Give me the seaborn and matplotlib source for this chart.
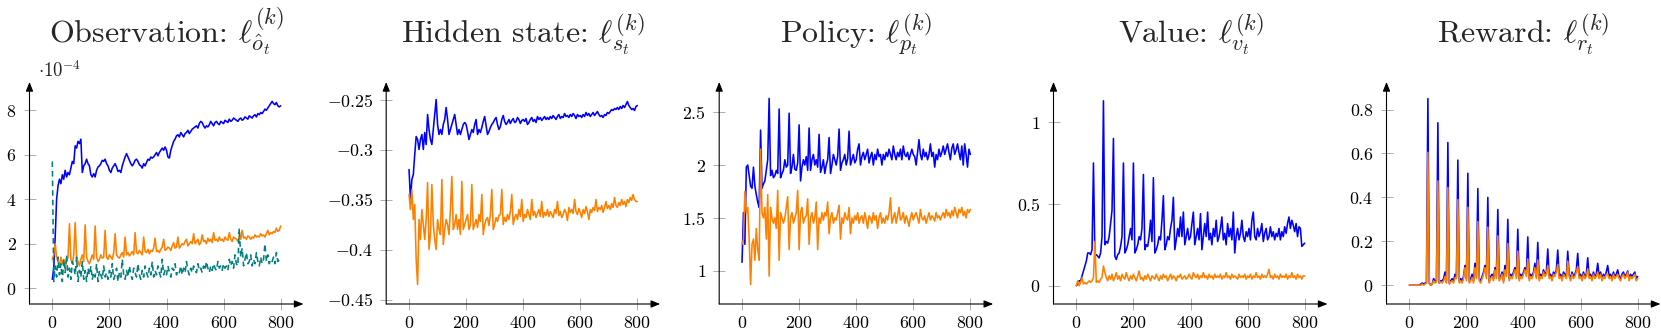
import matplotlib
matplotlib.use('Agg')
import matplotlib.pyplot as plt
import seaborn as sns

# training step axis (every 5 steps)
steps = list(range(0, 801, 5))

# Observation loss, values in units of 1e-4
obs_blue = [0.4, 0.9, 2.3, 4.0, 4.6, 4.9, 4.7, 5.1, 4.9, 5.3, 5.0, 5.2, 5.1, 5.4, 5.7, 5.6, 6.4, 6.3, 6.6, 6.5,
            6.7, 5.2, 5.5, 5.6, 5.8, 5.6, 5.5, 5.1, 5.0, 5.15, 5.0, 5.3, 5.45, 5.5, 5.6, 5.75, 5.7, 5.8, 5.6, 5.5,
            5.3, 5.2, 5.4, 5.5, 5.6, 5.45, 5.25, 5.3, 5.2, 5.5, 5.7, 5.9, 6.05, 5.9, 5.75, 5.6, 5.5, 5.6, 5.75, 5.8,
            5.7, 5.55, 5.5, 5.4, 5.6, 5.5, 5.65, 5.8, 5.75, 5.9, 5.85, 5.9, 6.0, 6.1, 5.95, 6.1, 6.2, 6.3, 6.2, 6.35,
            6.2, 5.9, 5.85, 6.2, 6.4, 6.6, 6.7, 6.85, 6.9, 6.8, 7.0, 6.9, 6.8, 6.95, 7.0, 7.1, 6.95, 7.05, 7.15, 7.2,
            7.25, 7.3, 7.2, 7.4, 7.5, 7.45, 7.3, 7.2, 7.3, 7.25, 7.35, 7.5, 7.4, 7.3, 7.45, 7.5, 7.4, 7.35, 7.5, 7.45,
            7.4, 7.55, 7.5, 7.45, 7.6, 7.5, 7.55, 7.65, 7.6, 7.55, 7.5, 7.6, 7.65, 7.55, 7.6, 7.7, 7.65, 7.6, 7.75, 7.7,
            7.65, 7.75, 7.8, 7.7, 7.85, 7.8, 7.9, 7.85, 7.95, 8.05, 8.0, 8.1, 8.2, 8.3, 8.4, 8.3, 8.25, 8.35, 8.2, 8.15,
            8.2]
obs_orange = [1.3, 1.5, 2.0, 1.4, 1.2, 1.0, 1.4, 1.1, 1.3, 0.9, 1.2, 1.4, 2.9, 1.3, 1.1, 1.5, 2.95, 1.4, 1.2, 1.0,
              1.3, 1.5, 1.2, 2.85, 1.4, 1.2, 1.1, 1.3, 1.5, 1.3, 2.8, 1.4, 1.2, 1.3, 1.5, 1.35, 1.4, 2.6, 1.4, 1.3,
              1.5, 1.4, 1.3, 1.6, 2.45, 1.5, 1.4, 1.35, 1.5, 1.6, 1.4, 2.3, 1.5, 1.6, 1.45, 1.55, 1.65, 1.5, 2.5, 1.6,
              1.55, 1.7, 1.6, 1.5, 2.3, 1.65, 1.6, 1.75, 1.55, 1.7, 1.65, 1.8, 2.25, 1.65, 1.7, 1.6, 1.75, 1.85, 2.2, 1.7,
              1.75, 1.85, 1.8, 1.7, 1.9, 2.05, 1.8, 1.85, 2.3, 1.8, 1.9, 2.0, 1.95, 2.1, 2.2, 1.9, 2.0, 2.1, 2.0, 2.45,
              2.0, 2.1, 2.2, 1.95, 2.05, 2.4, 2.1, 2.15, 2.0, 2.25, 2.1, 2.2, 2.05, 2.5, 2.15, 2.2, 2.1, 2.3, 2.15, 2.2,
              2.1, 2.3, 2.2, 2.15, 2.5, 2.2, 2.1, 2.3, 2.25, 2.2, 2.1, 2.35, 2.2, 2.6, 2.25, 2.3, 2.2, 2.35, 2.3, 2.2,
              2.3, 2.25, 2.4, 2.3, 2.35, 2.3, 2.45, 2.35, 2.4, 2.3, 2.45, 2.6, 2.4, 2.5, 2.45, 2.55, 2.5, 2.7, 2.55, 2.6,
              2.8]
obs_teal = [5.7, 0.3, 1.0, 0.5, 1.4, 0.6, 1.1, 0.3, 1.3, 0.7, 1.5, 0.5, 0.9, 0.4, 1.2, 1.0, 0.6, 1.4, 0.3, 0.8,
            0.5, 1.2, 0.4, 0.8, 0.3, 0.9, 0.6, 1.0, 0.4, 0.7, 0.5, 1.1, 0.3, 0.8, 0.6, 0.4, 1.0, 0.5, 0.7, 0.4,
            0.8, 0.5, 1.1, 0.4, 0.6, 0.9, 0.3, 0.7, 0.5, 1.3, 0.6, 0.4, 0.8, 0.5, 1.0, 0.6, 0.4, 0.9, 0.7, 0.5,
            1.1, 0.6, 0.4, 0.8, 0.5, 1.0, 0.7, 0.5, 0.9, 0.6, 1.2, 0.5, 0.8, 0.6, 1.0, 0.7, 0.5, 1.3, 0.6, 0.8,
            0.6, 1.0, 0.7, 0.5, 0.9, 0.8, 1.1, 0.6, 0.8, 0.7, 1.0, 0.6, 0.9, 0.7, 1.2, 0.8, 0.6, 0.9, 0.7, 1.0,
            0.8, 0.7, 1.1, 0.8, 0.9, 0.7, 1.0, 0.8, 1.2, 0.9, 0.7, 1.0, 0.8, 1.1, 0.9, 0.8, 1.2, 0.9, 1.0, 0.8,
            1.1, 0.9, 1.0, 0.8, 1.3, 1.0, 1.2, 0.9, 1.5, 1.1, 1.0, 2.7, 1.4, 1.8, 1.0, 1.3, 1.6, 1.1, 1.2, 1.5,
            1.0, 1.3, 1.1, 1.6, 1.2, 1.0, 1.4, 1.1, 1.3, 2.0, 1.2, 1.5, 1.1, 1.3, 1.2, 1.4, 1.1, 1.6, 1.2, 1.3,
            1.3]

# Hidden state loss
hid_blue = [-0.32, -0.35, -0.33, -0.325, -0.305, -0.287, -0.29, -0.30, -0.29, -0.285,
            -0.30, -0.283, -0.295, -0.265, -0.28, -0.29, -0.295, -0.28, -0.265, -0.25,
            -0.275, -0.285, -0.28, -0.285, -0.275, -0.27, -0.258, -0.27, -0.285, -0.28,
            -0.275, -0.27, -0.265, -0.275, -0.285, -0.28, -0.285, -0.28, -0.275, -0.273,
            -0.275, -0.282, -0.29, -0.285, -0.28, -0.283, -0.275, -0.27, -0.285, -0.28,
            -0.283, -0.278, -0.272, -0.267, -0.276, -0.285, -0.282, -0.278, -0.275, -0.273,
            -0.27, -0.268, -0.275, -0.28, -0.277, -0.27, -0.266, -0.272, -0.275, -0.273,
            -0.27, -0.274, -0.271, -0.269, -0.273, -0.272, -0.268, -0.27, -0.274, -0.271,
            -0.27, -0.272, -0.269, -0.275, -0.273, -0.27, -0.268, -0.272, -0.27, -0.273,
            -0.267, -0.27, -0.268, -0.271, -0.269, -0.267, -0.27, -0.268, -0.27, -0.267,
            -0.269, -0.266, -0.268, -0.27, -0.267, -0.265, -0.269, -0.267, -0.268, -0.264,
            -0.267, -0.266, -0.268, -0.265, -0.267, -0.264, -0.266, -0.269, -0.265, -0.267,
            -0.266, -0.268, -0.265, -0.267, -0.263, -0.266, -0.264, -0.267, -0.265, -0.263,
            -0.266, -0.264, -0.262, -0.265, -0.267, -0.266, -0.268, -0.265, -0.266, -0.263,
            -0.264, -0.262, -0.26, -0.261, -0.259, -0.26, -0.258, -0.26, -0.257, -0.259,
            -0.256, -0.258, -0.255, -0.252, -0.256, -0.258, -0.26, -0.259, -0.261, -0.257,
            -0.256]
hid_orange = [-0.345, -0.36, -0.34, -0.37, -0.355, -0.41, -0.435, -0.37, -0.39, -0.36,
              -0.375, -0.39, -0.37, -0.333, -0.40, -0.385, -0.335, -0.375, -0.39, -0.40,
              -0.37, -0.38, -0.385, -0.33, -0.395, -0.38, -0.37, -0.375, -0.385, -0.36,
              -0.327, -0.38, -0.375, -0.365, -0.38, -0.37, -0.385, -0.332, -0.38, -0.375,
              -0.37, -0.365, -0.38, -0.375, -0.335, -0.38, -0.375, -0.37, -0.378, -0.365,
              -0.372, -0.345, -0.385, -0.375, -0.37, -0.368, -0.376, -0.365, -0.34, -0.38,
              -0.375, -0.368, -0.372, -0.366, -0.365, -0.34, -0.375, -0.368, -0.372, -0.365,
              -0.37, -0.362, -0.345, -0.375, -0.368, -0.365, -0.37, -0.36, -0.367, -0.35,
              -0.372, -0.365, -0.368, -0.36, -0.365, -0.37, -0.35, -0.366, -0.362, -0.368,
              -0.364, -0.36, -0.367, -0.352, -0.368, -0.363, -0.366, -0.36, -0.367, -0.362,
              -0.365, -0.368, -0.36, -0.364, -0.352, -0.366, -0.362, -0.368, -0.365, -0.36,
              -0.363, -0.371, -0.358, -0.363, -0.36, -0.364, -0.35, -0.362, -0.365, -0.359,
              -0.363, -0.368, -0.36, -0.364, -0.357, -0.362, -0.37, -0.36, -0.363, -0.358,
              -0.361, -0.35, -0.362, -0.358, -0.36, -0.356, -0.363, -0.358, -0.352, -0.359,
              -0.356, -0.36, -0.354, -0.358, -0.348, -0.356, -0.358, -0.353, -0.356, -0.35,
              -0.355, -0.352, -0.357, -0.35, -0.353, -0.348, -0.351, -0.345, -0.35, -0.352,
              -0.352]

# Policy loss
pol_blue = [1.08, 1.55, 1.25, 1.98, 2.0, 1.9, 1.8, 1.78, 1.98, 1.8, 1.72, 1.65, 1.6, 2.33, 1.78, 1.82, 1.85, 1.95, 2.05, 2.63,
            1.9, 1.95, 1.88, 1.9, 1.95, 1.92, 2.53, 1.88, 1.92, 1.95, 2.05, 1.98, 2.0, 2.49, 1.92, 1.98, 2.1, 1.96, 1.95, 2.02,
            2.38, 1.85, 1.98, 2.05, 2.0, 2.08, 1.95, 2.35, 1.95, 2.05, 2.1, 2.0, 2.05, 1.98, 2.29, 1.93, 1.98, 2.05, 1.92, 2.0,
            2.05, 2.26, 1.92, 2.0, 2.1, 2.05, 2.0, 2.08, 2.34, 1.95, 2.02, 2.05, 2.1, 2.0, 2.06, 2.32, 2.0, 2.05, 2.1, 2.02,
            2.05, 2.15, 2.2, 2.0, 2.08, 2.12, 2.05, 2.1, 2.15, 2.02, 2.08, 2.12, 2.0, 2.1, 2.05, 2.15, 2.08, 2.1, 2.0, 2.1,
            2.05, 2.12, 2.08, 2.15, 2.1, 2.05, 2.18, 2.1, 2.05, 2.12, 2.08, 2.15, 2.05, 2.18, 2.1, 2.08, 2.12, 2.05, 2.1, 2.15,
            2.1, 2.08, 2.0, 2.12, 2.24, 2.1, 2.05, 2.15, 2.08, 2.12, 2.05, 2.1, 2.2, 2.08, 2.12, 1.98, 2.1, 2.05, 2.15, 2.08,
            2.12, 2.18, 2.1, 2.15, 2.2, 2.12, 2.05, 2.16, 2.2, 2.1, 2.14, 2.2, 2.12, 2.05, 2.18, 2.0, 2.2, 2.1, 1.98, 2.15,
            2.1]
pol_orange = [1.25, 1.3, 1.75, 1.55, 1.6, 1.3, 0.87, 1.25, 1.3, 1.1, 1.4, 1.2, 1.1, 2.15, 1.55, 1.5, 1.6, 1.3, 1.72, 0.95,
              1.6, 1.5, 1.45, 1.5, 1.4, 1.76, 1.1, 1.55, 1.5, 1.45, 1.5, 1.6, 1.7, 1.2, 1.5, 1.55, 1.45, 1.5, 1.55, 1.76,
              1.2, 1.55, 1.6, 1.45, 1.5, 1.52, 1.68, 1.25, 1.5, 1.55, 1.45, 1.5, 1.65, 1.2, 1.5, 1.45, 1.55, 1.48, 1.55, 1.52,
              1.65, 1.35, 1.5, 1.55, 1.45, 1.5, 1.48, 1.55, 1.62, 1.3, 1.5, 1.45, 1.55, 1.5, 1.48, 1.6, 1.35, 1.5, 1.45, 1.52,
              1.48, 1.55, 1.45, 1.5, 1.52, 1.45, 1.55, 1.48, 1.4, 1.52, 1.5, 1.45, 1.55, 1.48, 1.52, 1.4, 1.5, 1.55, 1.45, 1.5,
              1.45, 1.52, 1.48, 1.55, 1.69, 1.45, 1.5, 1.55, 1.45, 1.52, 1.6, 1.48, 1.5, 1.55, 1.45, 1.52, 1.48, 1.42, 1.5, 1.55,
              1.48, 1.52, 1.55, 1.5, 1.45, 1.58, 1.5, 1.48, 1.52, 1.45, 1.5, 1.55, 1.48, 1.52, 1.5, 1.47, 1.55, 1.5, 1.52, 1.48,
              1.52, 1.55, 1.5, 1.58, 1.52, 1.55, 1.5, 1.57, 1.52, 1.6, 1.55, 1.5, 1.58, 1.55, 1.6, 1.52, 1.56, 1.5, 1.58, 1.55,
              1.58]

# Value loss
val_blue = [0.0, 0.01, 0.03, 0.03, 0.06, 0.09, 0.12, 0.15, 0.2, 0.2, 0.19, 0.22, 0.75, 0.18, 0.19, 0.18, 0.17, 0.2, 0.3, 1.13,
            0.25, 0.27, 0.26, 0.3, 0.38, 0.46, 0.9, 0.18, 0.16, 0.19, 0.2, 0.24, 0.3, 0.75, 0.2, 0.22, 0.25, 0.3, 0.35, 0.28,
            0.75, 0.2, 0.22, 0.25, 0.3, 0.28, 0.35, 0.68, 0.22, 0.25, 0.24, 0.3, 0.4, 0.27, 0.66, 0.2, 0.22, 0.25, 0.3, 0.28,
            0.4, 0.55, 0.22, 0.25, 0.3, 0.28, 0.35, 0.4, 0.54, 0.22, 0.28, 0.35, 0.3, 0.42, 0.3, 0.45, 0.25, 0.3, 0.35, 0.28,
            0.3, 0.38, 0.45, 0.25, 0.3, 0.35, 0.28, 0.44, 0.22, 0.3, 0.38, 0.3, 0.45, 0.28, 0.32, 0.25, 0.35, 0.3, 0.4, 0.27,
            0.3, 0.35, 0.42, 0.28, 0.32, 0.25, 0.38, 0.3, 0.35, 0.28, 0.45, 0.2, 0.3, 0.35, 0.28, 0.32, 0.4, 0.3, 0.27, 0.33,
            0.3, 0.35, 0.28, 0.4, 0.45, 0.3, 0.28, 0.35, 0.3, 0.33, 0.38, 0.27, 0.32, 0.35, 0.28, 0.3, 0.36, 0.3, 0.33, 0.28,
            0.32, 0.3, 0.35, 0.28, 0.33, 0.3, 0.36, 0.32, 0.38, 0.42, 0.35, 0.4, 0.37, 0.33, 0.38, 0.3, 0.36, 0.35, 0.24, 0.25,
            0.26]
val_orange = [0.0, 0.03, 0.0, 0.02, 0.05, 0.01, 0.02, 0.01, 0.02, 0.03, 0.02, 0.03, 0.05, 0.27, 0.02, 0.03, 0.02, 0.04, 0.05, 0.12,
              0.08, 0.05, 0.03, 0.06, 0.04, 0.07, 0.03, 0.05, 0.08, 0.04, 0.06, 0.03, 0.07, 0.05, 0.04, 0.08, 0.05, 0.03, 0.06, 0.04,
              0.07, 0.05, 0.03, 0.06, 0.09, 0.04, 0.05, 0.03, 0.06, 0.04, 0.07, 0.05, 0.03, 0.06, 0.05, 0.04, 0.07, 0.05, 0.03, 0.06,
              0.04, 0.07, 0.05, 0.06, 0.03, 0.05, 0.07, 0.04, 0.06, 0.05, 0.03, 0.06, 0.05, 0.07, 0.04, 0.05, 0.06, 0.04, 0.05, 0.07,
              0.05, 0.04, 0.08, 0.06, 0.05, 0.07, 0.04, 0.06, 0.05, 0.08, 0.05, 0.06, 0.04, 0.07, 0.05, 0.06, 0.04, 0.07, 0.05, 0.06,
              0.05, 0.07, 0.04, 0.06, 0.05, 0.08, 0.05, 0.06, 0.04, 0.07, 0.05, 0.06, 0.05, 0.04, 0.07, 0.05, 0.06, 0.05, 0.07, 0.04,
              0.06, 0.05, 0.07, 0.04, 0.06, 0.05, 0.08, 0.05, 0.06, 0.04, 0.07, 0.05, 0.06, 0.05, 0.07, 0.1, 0.05, 0.06, 0.04, 0.07,
              0.05, 0.06, 0.04, 0.07, 0.05, 0.06, 0.05, 0.07, 0.04, 0.06, 0.05, 0.08, 0.05, 0.06, 0.04, 0.07, 0.05, 0.06, 0.04, 0.06,
              0.06]

# Reward loss
rew_blue = [0.0, 0.0, 0.0, 0.0, 0.0, 0.0, 0.0, 0.0, 0.005, 0.01, 0.005, 0.01, 0.01, 0.85, 0.01, 0.0, 0.005, 0.03, 0.02, 0.02,
            0.74, 0.01, 0.02, 0.02, 0.03, 0.06, 0.02, 0.65, 0.01, 0.02, 0.03, 0.02, 0.05, 0.04, 0.57, 0.02, 0.03, 0.02, 0.04, 0.09,
            0.03, 0.51, 0.02, 0.03, 0.05, 0.02, 0.1, 0.04, 0.44, 0.03, 0.02, 0.04, 0.06, 0.09, 0.05, 0.40, 0.02, 0.04, 0.05, 0.03,
            0.08, 0.05, 0.345, 0.03, 0.04, 0.06, 0.02, 0.09, 0.05, 0.30, 0.03, 0.05, 0.04, 0.06, 0.08, 0.04, 0.255, 0.03, 0.05, 0.04,
            0.06, 0.08, 0.05, 0.22, 0.03, 0.05, 0.04, 0.06, 0.1, 0.04, 0.195, 0.03, 0.05, 0.04, 0.07, 0.05, 0.06, 0.165, 0.04, 0.05,
            0.03, 0.06, 0.05, 0.07, 0.16, 0.04, 0.05, 0.03, 0.06, 0.05, 0.04, 0.155, 0.05, 0.03, 0.06, 0.04, 0.05, 0.07, 0.145, 0.04,
            0.05, 0.03, 0.06, 0.04, 0.05, 0.125, 0.04, 0.05, 0.03, 0.06, 0.04, 0.05, 0.1, 0.04, 0.06, 0.03, 0.05, 0.04, 0.06, 0.09,
            0.04, 0.05, 0.03, 0.06, 0.04, 0.05, 0.07, 0.04, 0.03, 0.05, 0.06, 0.04, 0.05, 0.065, 0.03, 0.05, 0.04, 0.05, 0.06, 0.03,
            0.04]
rew_orange = [0.0, 0.0, 0.0, 0.0, 0.0, 0.0, 0.0, 0.0, 0.0, 0.005, 0.0, 0.005, 0.01, 0.605, 0.005, 0.0, 0.005, 0.02, 0.01, 0.015,
              0.475, 0.01, 0.015, 0.01, 0.02, 0.04, 0.01, 0.445, 0.005, 0.015, 0.02, 0.01, 0.035, 0.03, 0.39, 0.01, 0.02, 0.01, 0.03, 0.08,
              0.02, 0.355, 0.01, 0.02, 0.035, 0.01, 0.08, 0.03, 0.29, 0.02, 0.01, 0.03, 0.05, 0.08, 0.03, 0.265, 0.01, 0.03, 0.04, 0.02,
              0.07, 0.03, 0.225, 0.02, 0.03, 0.05, 0.01, 0.07, 0.04, 0.19, 0.02, 0.04, 0.03, 0.05, 0.07, 0.03, 0.155, 0.02, 0.04, 0.03,
              0.05, 0.07, 0.04, 0.12, 0.02, 0.04, 0.03, 0.05, 0.08, 0.03, 0.115, 0.02, 0.04, 0.03, 0.06, 0.04, 0.05, 0.09, 0.03, 0.04,
              0.02, 0.05, 0.04, 0.06, 0.095, 0.03, 0.04, 0.02, 0.05, 0.04, 0.03, 0.11, 0.04, 0.02, 0.05, 0.03, 0.04, 0.06, 0.085, 0.03,
              0.04, 0.02, 0.05, 0.03, 0.04, 0.075, 0.03, 0.04, 0.02, 0.05, 0.03, 0.04, 0.06, 0.03, 0.05, 0.02, 0.04, 0.03, 0.05, 0.05,
              0.03, 0.04, 0.02, 0.05, 0.03, 0.04, 0.05, 0.03, 0.02, 0.04, 0.05, 0.03, 0.04, 0.06, 0.02, 0.04, 0.03, 0.04, 0.05, 0.02,
              0.03]

BLUE = '#0000ff'
ORANGE = '#ff8000'
TEAL = '#008080'

sns.set_style('ticks')
plt.rcParams['font.family'] = ['cmr10', 'DejaVu Serif']
plt.rcParams['mathtext.fontset'] = 'cm'
plt.rcParams['axes.formatter.use_mathtext'] = True

panels = [
    dict(title=r'Observation: $\ell^{(k)}_{\hat{o}_t}$', left=29.5,
         series=[(obs_blue, BLUE, False), (obs_orange, ORANGE, False), (obs_teal, TEAL, True)],
         ylim=(-0.71, 9.27), yticks=[0, 2, 4, 6, 8], ylabels=['0', '2', '4', '6', '8']),
    dict(title=r'Hidden state: $\ell^{(k)}_{s_t}$', left=386.2,
         series=[(hid_blue, BLUE, False), (hid_orange, ORANGE, False)],
         ylim=(-0.4545, -0.2325), yticks=[-0.45, -0.4, -0.35, -0.3, -0.25],
         ylabels=['-0.45', '-0.4', '-0.35', '-0.3', '-0.25']),
    dict(title=r'Policy: $\ell^{(k)}_{p_t}$', left=719.2,
         series=[(pol_blue, BLUE, False), (pol_orange, ORANGE, False)],
         ylim=(0.686, 2.785), yticks=[1, 1.5, 2, 2.5], ylabels=['1', '1.5', '2', '2.5']),
    dict(title=r'Value: $\ell^{(k)}_{v_t}$', left=1053.5,
         series=[(val_blue, BLUE, False), (val_orange, ORANGE, False)],
         ylim=(-0.112, 1.245), yticks=[0, 0.5, 1], ylabels=['0', '0.5', '1']),
    dict(title=r'Reward: $\ell^{(k)}_{r_t}$', left=1386.5,
         series=[(rew_blue, BLUE, False), (rew_orange, ORANGE, False)],
         ylim=(-0.0855, 0.9255), yticks=[0, 0.2, 0.4, 0.6, 0.8],
         ylabels=['0', '0.2', '0.4', '0.6', '0.8']),
]

W, H = 1661, 335
fig = plt.figure(figsize=(W / 100, H / 100), dpi=100)

for p in panels:
    ax = fig.add_axes([p['left'] / W, 31 / H, 274 / W, 222 / H])
    for vals, col, dashed in p['series']:
        sns.lineplot(x=steps, y=vals, ax=ax, color=col, lw=1.15, estimator=None, sort=False,
                     linestyle=(0, (3.5, 2.5)) if dashed else '-')
    ax.set_xlim(-80, 880)
    ax.set_ylim(*p['ylim'])
    ax.set_xticks([0, 200, 400, 600, 800], [f'${t}$' for t in [0, 200, 400, 600, 800]])
    ax.set_yticks(p['yticks'], [f'${l}$' for l in p['ylabels']])
    ax.set_xlabel('')
    ax.set_ylabel('')
    for s in ax.spines.values():
        s.set_visible(False)
    ax.tick_params(direction='inout', length=9, width=0.6, color='#a0a0a0',
                   labelsize=12.8, labelcolor='black', bottom=True, left=True)
    ax.tick_params(axis='y', pad=4.8)
    ax.tick_params(axis='x', pad=3.5)
    arrow = dict(arrowstyle='-|>,head_length=0.55,head_width=0.22', color='black',
                 lw=0.8, shrinkA=0, shrinkB=0)
    ax.annotate('', xy=(1.0, 0), xytext=(0, 0), xycoords='axes fraction', arrowprops=arrow)
    ax.annotate('', xy=(0, 1.0), xytext=(0, 0), xycoords='axes fraction', arrowprops=arrow)
    ax.text(0.5, 1.177, p['title'], transform=ax.transAxes, ha='center', va='baseline',
            fontsize=23)
    if p['left'] < 100:
        ax.text(0.031, 1.022, r'$\cdot 10^{-4}$', transform=ax.transAxes,
                ha='left', va='baseline', fontsize=13.5)

fig.savefig('out.png', dpi=100)
